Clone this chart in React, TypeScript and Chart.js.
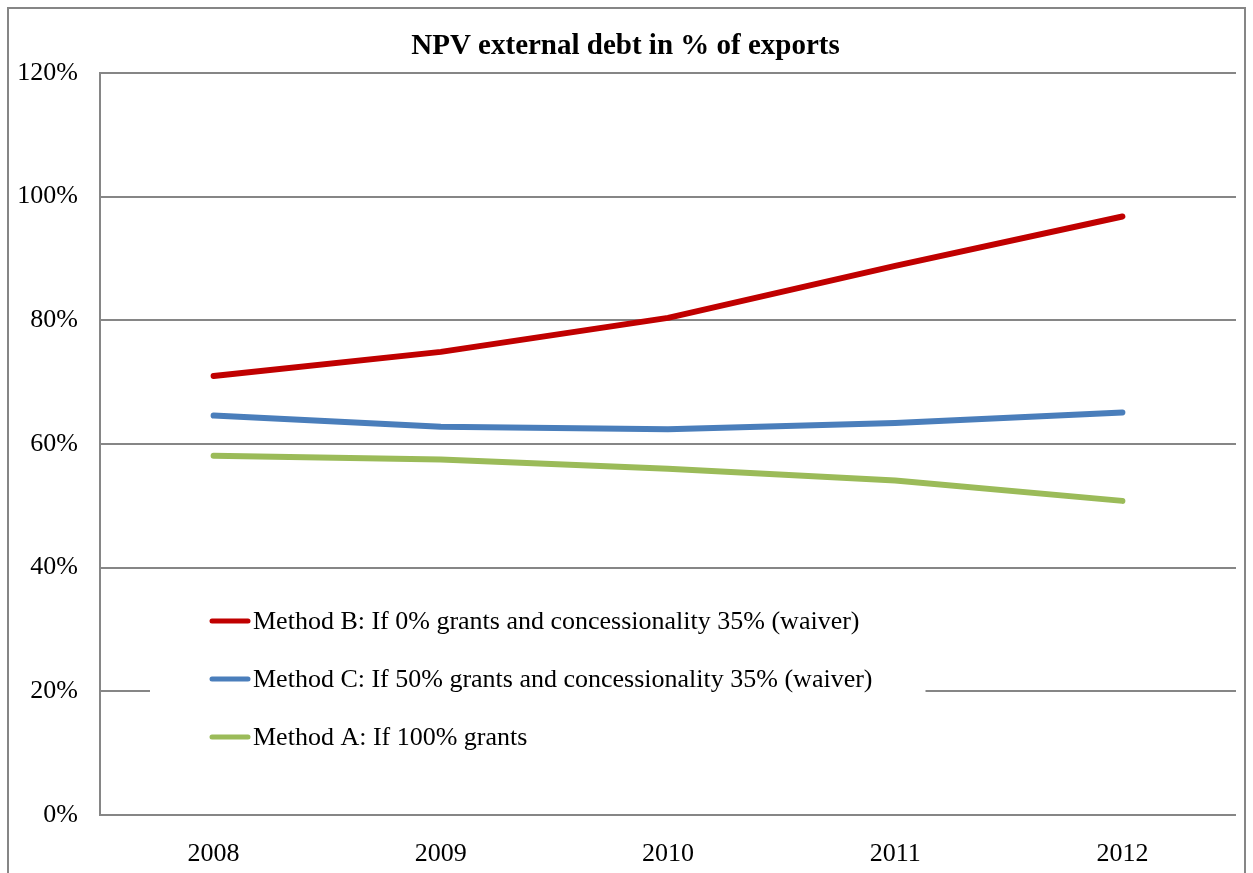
import React, { useEffect, useRef } from "react";
import { Chart, registerables } from "chart.js";

Chart.register(...registerables);

const categories = ["2008", "2009", "2010", "2011", "2012"];
const methodB = [71.0, 74.9, 80.4, 88.8, 96.8];
const methodC = [64.6, 62.8, 62.4, 63.4, 65.1];
const methodA = [58.1, 57.5, 56.0, 54.1, 50.8];
const seriesLabels = [
  "Method B: If 0% grants and concessionality 35% (waiver)",
  "Method C: If 50% grants and concessionality 35% (waiver)",
  "Method A: If 100% grants",
];
const seriesColors = ["#C00000", "#4A7EBB", "#9BBB59"];
const titleText = "NPV external debt in % of exports";
const FONT = "'Liberation Serif', 'Times New Roman', serif";

const framePlugin = {
  id: "frame",
  beforeDraw(chart: any) {
    const ctx = chart.ctx;
    ctx.save();
    ctx.fillStyle = "#ffffff";
    ctx.fillRect(0, 0, chart.width, chart.height);
    ctx.strokeStyle = "#868686";
    ctx.lineWidth = 2;
    ctx.strokeRect(8, 8, chart.width - 16, chart.height + 20);
    ctx.restore();
  },
};

const innerLegendPlugin = {
  id: "innerLegend",
  afterDatasetsDraw(chart: any) {
    const ctx = chart.ctx;
    const area = chart.chartArea;
    ctx.save();
    ctx.font = `26px ${FONT}`;
    const ds = chart.data.datasets;
    const sampleX = area.left + 112;
    const textX = sampleX + 41;
    let maxW = 0;
    ds.forEach((d: any) => {
      maxW = Math.max(maxW, ctx.measureText(d.label).width);
    });
    const boxLeft = area.left + 50;
    const boxRight = textX + maxW + 53;
    const firstY = area.bottom - 194;
    ctx.fillStyle = "#ffffff";
    ctx.fillRect(boxLeft, firstY - 28, boxRight - boxLeft, 58 * 2 + 56);
    ds.forEach((d: any, i: number) => {
      const y = firstY + i * 58;
      ctx.strokeStyle = d.borderColor;
      ctx.lineWidth = 5;
      ctx.lineCap = "round";
      ctx.beginPath();
      ctx.moveTo(sampleX, y);
      ctx.lineTo(sampleX + 36, y);
      ctx.stroke();
      ctx.fillStyle = "#000000";
      ctx.textBaseline = "middle";
      ctx.textAlign = "left";
      ctx.fillText(d.label, textX, y + 1);
    });
    ctx.restore();
  },
};

export default function App() {
  const canvasRef = useRef<HTMLCanvasElement | null>(null);

  useEffect(() => {
    if (!canvasRef.current) return;
    const mk = (label: string, data: number[], color: string) => ({
      label,
      data,
      borderColor: color,
      backgroundColor: color,
      borderWidth: 6,
      borderCapStyle: "round",
      borderJoinStyle: "round",
      pointRadius: 0,
      tension: 0,
      fill: false,
    });
    const chart = new Chart(canvasRef.current, {
      type: "line",
      data: {
        labels: categories,
        datasets: [
          mk(seriesLabels[0], methodB, seriesColors[0]),
          mk(seriesLabels[1], methodC, seriesColors[1]),
          mk(seriesLabels[2], methodA, seriesColors[2]),
        ] as any,
      },
      options: {
        animation: false,
        responsive: false,
        maintainAspectRatio: false,
        layout: { padding: { left: 15, right: 17, top: 8, bottom: 0 } },
        plugins: {
          legend: { display: false },
          tooltip: { enabled: false },
          title: {
            display: true,
            text: titleText,
            color: "#000000",
            font: { family: FONT, size: 29, weight: "bold" },
            padding: { top: 21.5, bottom: 8.7 },
          },
        },
        scales: {
          x: {
            offset: true,
            grid: { display: false, drawTicks: false },
            border: { display: false },
            ticks: {
              color: "#000000",
              font: { family: FONT, size: 26 },
              padding: 24,
              maxRotation: 0,
            },
            afterFit: (s: any) => {
              s.height = 58;
            },
          },
          y: {
            min: 0,
            max: 120,
            grid: { color: "#868686", lineWidth: 2, drawTicks: false },
            border: { display: true, color: "#868686", width: 2 },
            ticks: {
              stepSize: 20,
              color: "#000000",
              font: { family: FONT, size: 26 },
              padding: 22,
              callback: (v: any) => `${v}%`,
            },
            afterFit: (s: any) => {
              s.width = 85;
            },
          },
        },
      },
      plugins: [framePlugin, innerLegendPlugin],
    } as any);
    return () => chart.destroy();
  }, []);

  return (
    <div style={{ position: "absolute", left: 0, top: 0, width: 1253, height: 873 }}>
      <canvas ref={canvasRef} width={1253} height={873} style={{ display: "block" }} />
    </div>
  );
}
